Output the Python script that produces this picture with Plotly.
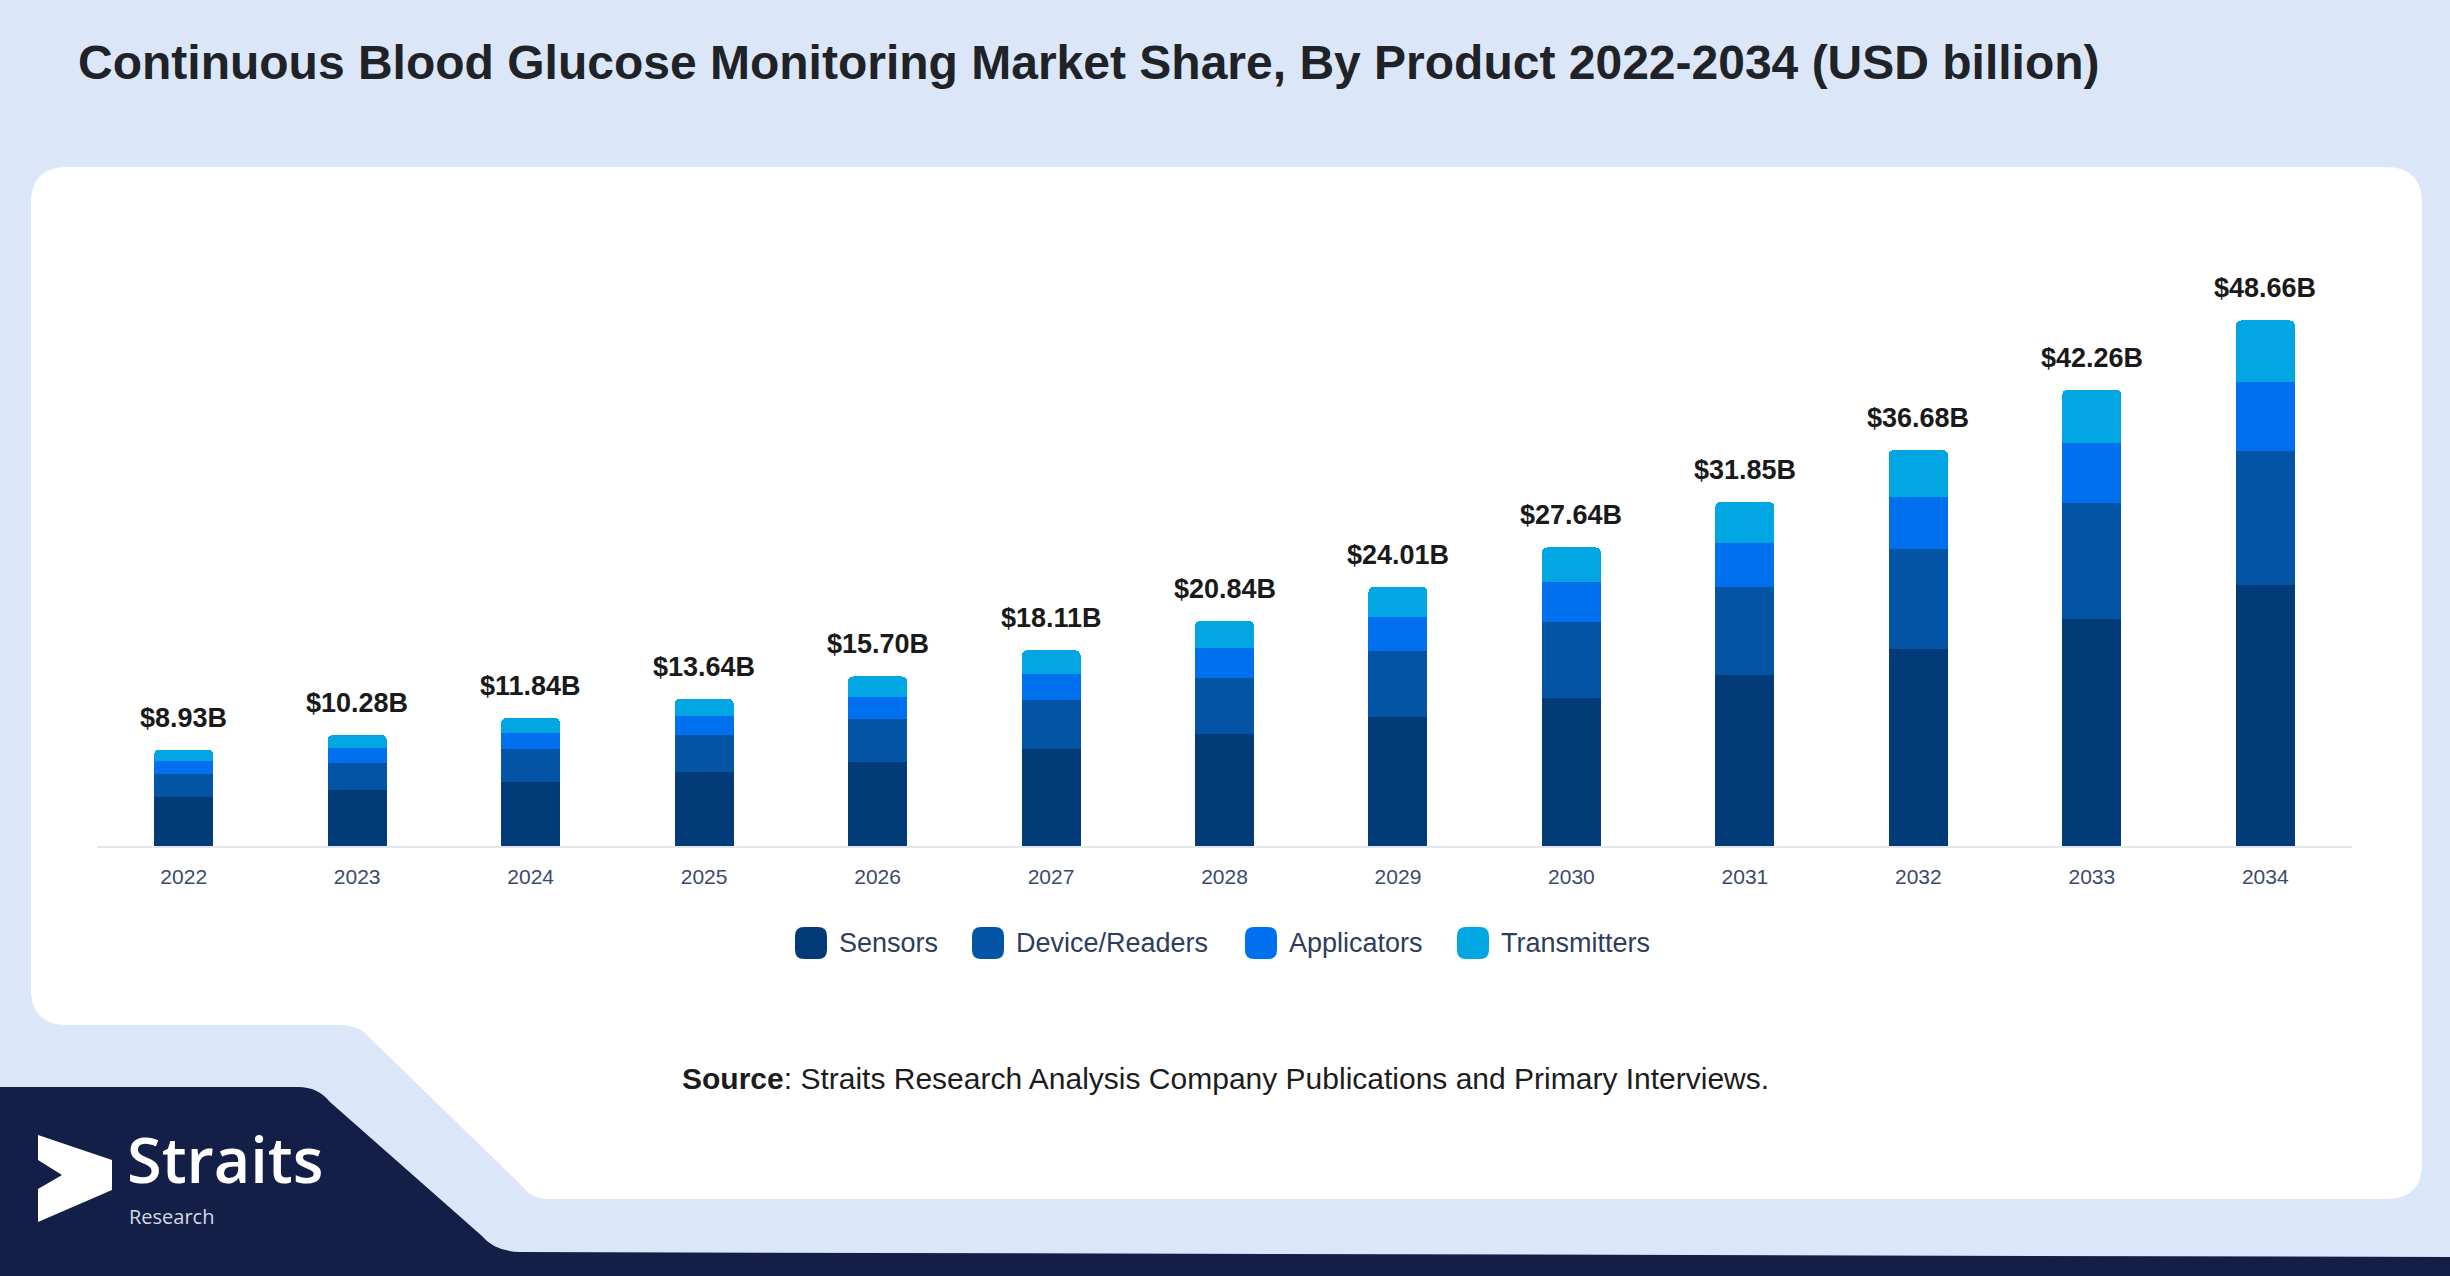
import plotly.graph_objects as go

# data (USD billion)
years = ["2022", "2023", "2024", "2025", "2026", "2027", "2028",
         "2029", "2030", "2031", "2032", "2033", "2034"]
sensors = [4.50, 5.14, 5.95, 6.82, 7.79, 8.96, 10.36, 11.96, 13.75, 15.86, 18.23, 21.00, 24.19]
device_readers = [2.19, 2.57, 3.04, 3.44, 4.01, 4.59, 5.23, 6.12, 7.00, 8.08, 9.24, 10.75, 12.38]
applicators = [1.17, 1.36, 1.46, 1.77, 2.01, 2.39, 2.77, 3.14, 3.65, 4.16, 4.87, 5.56, 6.37]
transmitters = [1.07, 1.21, 1.39, 1.61, 1.89, 2.17, 2.48, 2.79, 3.24, 3.75, 4.34, 4.95, 5.72]
totals = [8.93, 10.28, 11.84, 13.64, 15.70, 18.11, 20.84, 24.01, 27.64, 31.85, 36.68, 42.26, 48.66]

series_names = ["Sensors", "Device/Readers", "Applicators", "Transmitters"]
series_values = [sensors, device_readers, applicators, transmitters]
series_colors = ["#033b78", "#0454a6", "#0070ee", "#02a6e3"]

# figure geometry (pixels)
W, H = 2450, 1276
L, R, T, B = 97, 98, 252, 430
PW = W - L - R
PH = H - T - B


def px(x):
    return (x - L) / PW


def py(y):
    return (H - B - y) / PH


def path(points):
    # points: list of (cmd, x, y) in pixel coords
    out = []
    for p in points:
        if p[0] == "Q":
            out.append(f"Q{px(p[1]):.5f},{py(p[2]):.5f} {px(p[3]):.5f},{py(p[4]):.5f}")
        else:
            out.append(f"{p[0]}{px(p[1]):.5f},{py(p[2]):.5f}")
    return " ".join(out) + " Z"


def rrect(x0, y0, x1, y1, r):
    return path([
        ("M", x0 + r, y0), ("L", x1 - r, y0), ("Q", x1, y0, x1, y0 + r),
        ("L", x1, y1 - r), ("Q", x1, y1, x1 - r, y1), ("L", x0 + r, y1),
        ("Q", x0, y1, x0, y1 - r), ("L", x0, y0 + r), ("Q", x0, y0, x0 + r, y0),
    ])


fig = go.Figure()

for name, vals, col in zip(series_names, series_values, series_colors):
    fig.add_trace(go.Bar(x=years, y=vals, name=name, marker_color=col,
                         marker_line_width=0, showlegend=False))

shapes = []
# white card with cut bottom-left corner
shapes.append(dict(type="path", xref="paper", yref="paper", layer="below",
                   fillcolor="white", line_width=0,
                   path=path([("M", 67, 167), ("L", 2386, 167), ("Q", 2422, 167, 2422, 203),
                              ("L", 2422, 1163), ("Q", 2422, 1199, 2386, 1199),
                              ("L", 548, 1199), ("Q", 532, 1199, 522, 1186),
                              ("L", 372, 1040), ("Q", 360, 1025, 340, 1025),
                              ("L", 67, 1025), ("Q", 31, 1025, 31, 989),
                              ("L", 31, 203), ("Q", 31, 167, 67, 167)])))
# dark navy footer
shapes.append(dict(type="path", xref="paper", yref="paper", layer="below",
                   fillcolor="#131f46", line_width=0,
                   path=path([("M", 0, 1087), ("L", 298, 1087), ("Q", 318, 1087, 330, 1102),
                              ("L", 482, 1236), ("Q", 494, 1251, 520, 1252),
                              ("L", 2450, 1257), ("L", 2450, 1276), ("L", 0, 1276)])))
# logo arrow
shapes.append(dict(type="path", xref="paper", yref="paper", layer="above",
                   fillcolor="white", line_width=0,
                   path=path([("M", 38, 1135), ("L", 112, 1160), ("L", 112, 1190),
                              ("L", 38, 1222), ("L", 38, 1189), ("L", 62, 1175),
                              ("L", 38, 1160)])))

annotations = []
# value labels on top of each stack (category axis -> index positions)
for i, tot in enumerate(totals):
    annotations.append(dict(x=i, y=tot, xref="x", yref="y", text=f"${tot:.2f}B",
                            showarrow=False, yanchor="bottom", yshift=15,
                            font=dict(family="Liberation Sans", size=27, color="#1a1a1a",
                                      weight="bold")))

# manual legend
legend_marker_x = [795, 972, 1245, 1457]
for name, col, mx in zip(series_names, series_colors, legend_marker_x):
    shapes.append(dict(type="path", xref="paper", yref="paper", fillcolor=col, line_width=0,
                       path=rrect(mx, 927, mx + 32, 959, 9)))
    annotations.append(dict(x=px(mx + 42), y=py(943), xref="paper", yref="paper",
                            text=name, showarrow=False, xanchor="left", yanchor="middle",
                            font=dict(family="Liberation Sans", size=27, color="#2f3d5c")))

# title
annotations.append(dict(x=px(76), y=py(62), xref="paper", yref="paper",
                        text="Continuous Blood Glucose Monitoring Market Share, By Product 2022-2034 (USD billion)",
                        showarrow=False, xanchor="left", yanchor="middle",
                        font=dict(family="Liberation Sans", size=48, color="#1f2328", weight="bold")))
# source
annotations.append(dict(x=px(1225), y=py(1078), xref="paper", yref="paper",
                        text="<b>Source</b>: Straits Research Analysis Company Publications and Primary Interviews.",
                        showarrow=False, xanchor="center", yanchor="middle",
                        font=dict(family="Liberation Sans", size=30, color="#1c1c1c")))
# logo text
annotations.append(dict(x=px(126), y=py(1158), xref="paper", yref="paper", text="Straits",
                        showarrow=False, xanchor="left", yanchor="middle", borderpad=0,
                        font=dict(family="Open Sans", size=63, color="white", weight=600)))
annotations.append(dict(x=px(128), y=py(1216), xref="paper", yref="paper", text="Research",
                        showarrow=False, xanchor="left", yanchor="middle", borderpad=0,
                        font=dict(family="Open Sans", size=20, color="#d5d9e4")))

fig.update_layout(
    width=W, height=H,
    margin=dict(l=L, r=R, t=T, b=B),
    paper_bgcolor="#dbe7f8",
    plot_bgcolor="rgba(0,0,0,0)",
    barmode="stack",
    bargap=0.66,
    barcornerradius=5,
    shapes=shapes,
    annotations=annotations,
    showlegend=False,
    xaxis=dict(type="category", range=[-0.5, len(years) - 0.5], showline=True,
               linecolor="#e2e5ea", linewidth=2,
               showgrid=False, ticks="", ticklabelstandoff=11,
               tickfont=dict(family="Liberation Sans", size=21, color="#3b4a6b")),
    yaxis=dict(range=[0, 55], visible=False, showgrid=False, zeroline=False),
)

fig.write_html("out.html", config={"displayModeBar": False},
               post_script="document.body.style.margin='0';document.body.style.background='#dbe7f8';")
